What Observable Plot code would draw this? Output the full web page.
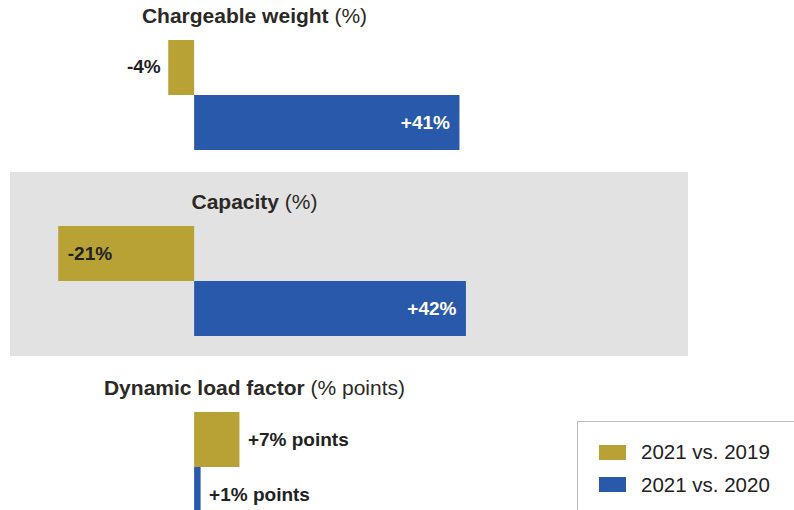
<!DOCTYPE html>
<html>
<head>
<meta charset="utf-8">
<script src="https://cdn.jsdelivr.net/npm/d3@7"></script>
<script src="https://cdn.jsdelivr.net/npm/@observablehq/plot@0.6"></script>
<style>
  body { margin: 0; background: #fff; overflow: hidden; font-family: "Liberation Sans", Arial, Helvetica, sans-serif; }
  #chart { position: relative; width: 794px; height: 510px; overflow: hidden; }
  .legend { position: absolute; left: 577px; top: 421px; width: 240px; height: 120px; box-sizing: border-box;
            border: 1px solid #bdbdbd; background: #fff; }
  .legend .row { position: absolute; left: 21px; display: flex; align-items: center; height: 20px;
                 font-size: 20.5px; color: #222; white-space: nowrap; }
  .legend .sw { width: 27px; height: 15px; margin-right: 15px; flex: none; }
</style>
</head>
<body>
<div id="chart"></div>
<script>
// Year-over-year changes per metric
const groups = ["Chargeable weight", "Capacity", "Dynamic load factor"];
const units = ["%", "%", "% points"];
const series = ["2021 vs. 2019", "2021 vs. 2020"];
const vs2019 = [-4, -21, 7];
const vs2020 = [41, 42, 1];
const colors = ["#b8a135", "#2859aa"];
const shaded = ["Capacity"];

const rows = groups.flatMap((g, i) => [
  {group: g, unit: units[i], series: series[0], value: vs2019[i]},
  {group: g, unit: units[i], series: series[1], value: vs2020[i]}
]);

const label = d => (d.value > 0 ? "+" : "") + d.value + d.unit;
const inside = d => Math.abs(d.value) >= 15;
const dark = "#222";

// Value labels: long bars carry their label inside, short bars outside
const labelMarks = [];
for (const s of series) {
  const insideFill = s === series[1] ? "white" : dark;
  labelMarks.push(
    Plot.text(rows, {filter: d => d.series === s && inside(d) && d.value > 0, x: "value", y: "series", fy: "group",
      text: label, textAnchor: "end", dx: -10, fill: insideFill, fontWeight: "bold", fontSize: 19}),
    Plot.text(rows, {filter: d => d.series === s && inside(d) && d.value < 0, x: "value", y: "series", fy: "group",
      text: label, textAnchor: "start", dx: 9, fill: insideFill, fontWeight: "bold", fontSize: 19})
  );
}
labelMarks.push(
  Plot.text(rows, {filter: d => !inside(d) && d.value >= 0, x: "value", y: "series", fy: "group",
    text: label, textAnchor: "start", dx: 8, fill: dark, fontWeight: "bold", fontSize: 19}),
  Plot.text(rows, {filter: d => !inside(d) && d.value < 0, x: "value", y: "series", fy: "group",
    text: label, textAnchor: "end", dx: -8, dy: -1, fill: dark, fontWeight: "bold", fontSize: 19})
);

const chart = Plot.plot({
  width: 794,
  height: 510,
  margin: 0,
  style: {fontFamily: '"Liberation Sans", Arial, Helvetica, sans-serif', background: "transparent", overflow: "visible"},
  x: {domain: [-30, 92.7], axis: null},
  y: {domain: series, range: [53, 164], padding: 0, axis: null},
  fy: {domain: groups, range: [-14.5, 542.5], paddingInner: 0.0134, paddingOuter: 0, axis: null},
  color: {domain: series, range: colors},
  marks: [
    Plot.rect(shaded, {fy: d => d, fill: "#e2e2e2", insetLeft: 10, insetRight: 106}),
    Plot.text(groups, {fy: d => d, text: (d, i) => `${d} (${units[i]})`, frameAnchor: "top",
      lineAnchor: "middle", dy: 30, dx: -143, fontSize: 21, fill: "#2b2925"}),
    Plot.barX(rows, {x: "value", y: "series", fy: "group", fill: "series"}),
    ...labelMarks
  ]
});

// Metric names bold, unit in parentheses regular
d3.select(chart).selectAll("text").each(function () {
  const t = this.textContent;
  const g = groups.find(g => t.startsWith(g + " ("));
  if (!g) return;
  const sel = d3.select(this);
  sel.text(null);
  sel.append("tspan").attr("font-weight", "bold").text(g);
  sel.append("tspan").attr("font-weight", "normal").text(t.slice(g.length));
});

const host = document.getElementById("chart");
host.appendChild(chart);

// Legend drawn from the plot's color scale
const color = chart.scale("color");
const legend = document.createElement("div");
legend.className = "legend";
color.domain.forEach((name, i) => {
  const row = document.createElement("div");
  row.className = "row";
  row.style.top = (20 + i * 32.5) + "px";
  const sw = document.createElement("span");
  sw.className = "sw";
  sw.style.background = color.range[i];
  const txt = document.createElement("span");
  txt.textContent = name;
  row.append(sw, txt);
  legend.appendChild(row);
});
host.appendChild(legend);
</script>
</body>
</html>
